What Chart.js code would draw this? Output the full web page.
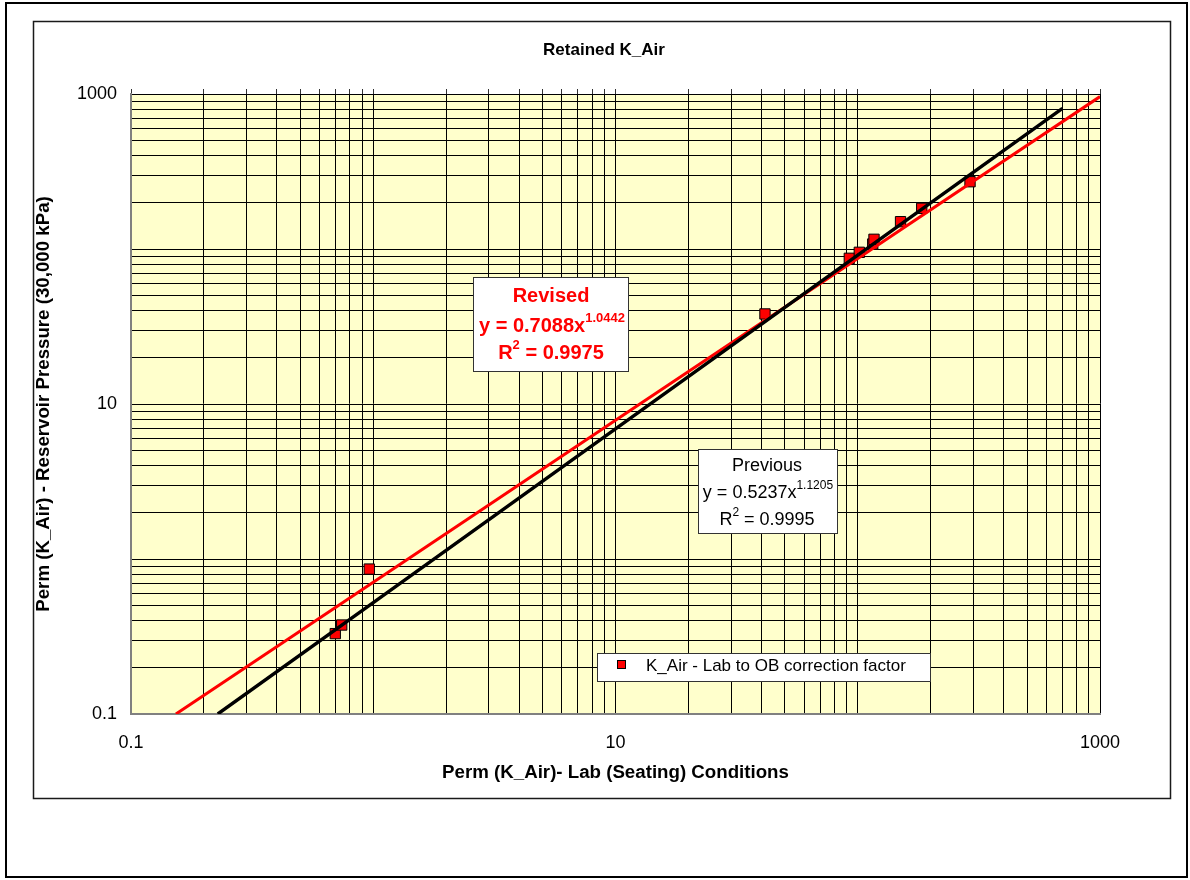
<!DOCTYPE html>
<html>
<head>
<meta charset="utf-8">
<script src="https://cdn.jsdelivr.net/npm/chart.js@4.4.0/dist/chart.umd.min.js"></script>
<style>
  html, body { margin: 0; padding: 0; background: #ffffff; }
  #wrap { width: 1190px; height: 880px; position: relative; }
</style>
</head>
<body>
<div id="wrap"><canvas id="c" width="1190" height="880"></canvas></div>
<script>
// ---- chart data ----
const chartTitle = 'Retained K_Air';
const xAxisTitle = 'Perm (K_Air)- Lab (Seating) Conditions';
const yAxisTitle = 'Perm (K_Air) - Reservoir Pressure (30,000 kPa)';
const seriesName = 'K_Air - Lab to OB correction factor';

// lab (seating) permeability vs reservoir-pressure permeability
const labPerm       = [0.697, 0.741, 0.963, 41.4, 92.3, 101.5, 115.3, 116.7, 150.2, 183.7, 290.7];
const reservoirPerm = [0.330, 0.375, 0.861, 38.1, 87.1,  95.2, 107.7, 115.5, 150.0, 183.0, 271.6];

// power-law fits y = a * x^b
const fitNames = ['Previous', 'Revised'];
const fitCoef  = [0.5237, 0.7088];
const fitExp   = [1.1205, 1.0442];
const fitR2    = [0.9995, 0.9975];
const fitXEnd  = [700, 1000];
const fitColors = ['#000000', '#ff0000'];

// axis ticks
const axisMin = 0.1, axisMax = 1000;
const decades = [0.1, 1, 10, 100];
const xTickLabels = ['0.1', '10', '1000'];
const yTickLabels = ['0.1', '10', '1000'];

// ---- helpers ----
const FONT = "'Liberation Sans', Arial, sans-serif";

const tickValues = [];
decades.forEach(d => { for (let m = 1; m <= 9; m++) tickValues.push(Number((m * d).toPrecision(6))); });
tickValues.push(axisMax);

function labelFor(v, labels) {
  const hit = labels.find(l => Math.abs(Number(l) - v) <= 1e-9 * Math.max(1, Math.abs(v)));
  return hit === undefined ? '' : hit;
}

function fitLine(i) {
  const a = fitCoef[i], b = fitExp[i];
  const xStart = Math.pow(axisMin / a, 1 / b); // where the fit meets the bottom of the axis
  const xs = [xStart, 1, 10, 100, fitXEnd[i]].filter(x => x >= xStart && x <= fitXEnd[i]);
  return xs.map(x => ({ x, y: a * Math.pow(x, b) }));
}

function setTicks(scale) {
  scale.ticks = tickValues.map(v => ({ value: v }));
}

// text with superscript pieces, centered on cx
function drawRich(ctx, cx, baseY, parts, color) {
  ctx.fillStyle = color;
  ctx.textBaseline = 'alphabetic';
  ctx.textAlign = 'left';
  let total = 0;
  parts.forEach(p => { ctx.font = p.font; p.w = ctx.measureText(p.t).width; total += p.w; });
  let x = cx - total / 2;
  parts.forEach(p => { ctx.font = p.font; ctx.fillText(p.t, x, baseY + (p.dy || 0)); x += p.w; });
}

const decorPlugin = {
  id: 'decor',
  beforeDraw(chart) {
    const ctx = chart.ctx, a = chart.chartArea;
    ctx.save();
    ctx.fillStyle = '#ffffff';
    ctx.fillRect(0, 0, chart.width, chart.height);
    // outer frame
    ctx.strokeStyle = '#000000';
    ctx.lineWidth = 2;
    ctx.strokeRect(6, 3, 1181, 874);
    // chart frame
    ctx.lineWidth = 1.5;
    ctx.strokeStyle = '#1a1a1a';
    ctx.strokeRect(33.5, 21.5, 1137, 777);
    // plot background
    ctx.fillStyle = '#ffffcc';
    ctx.fillRect(a.left, a.top, a.right - a.left, a.bottom - a.top);
    ctx.restore();
  },
  afterDraw(chart) {
    const ctx = chart.ctx;
    ctx.save();
    // chart title
    ctx.fillStyle = '#000';
    ctx.font = `bold 17px ${FONT}`;
    ctx.textAlign = 'center';
    ctx.textBaseline = 'middle';
    ctx.fillText(chartTitle, 604, 50);

    // revised fit box
    ctx.fillStyle = '#ffffff';
    ctx.fillRect(473, 277, 155, 94);
    ctx.strokeStyle = '#333333';
    ctx.lineWidth = 1;
    ctx.strokeRect(473.5, 277.5, 155, 94);
    const rb = `bold 20px ${FONT}`, rs = `bold 13px ${FONT}`;
    drawRich(ctx, 551, 302, [{ t: fitNames[1], font: rb }], fitColors[1]);
    drawRich(ctx, 552, 332, [
      { t: `y = ${fitCoef[1].toFixed(4)}x`, font: rb },
      { t: fitExp[1].toFixed(4), font: rs, dy: -10 }
    ], fitColors[1]);
    drawRich(ctx, 551, 359, [
      { t: 'R', font: rb }, { t: '2', font: rs, dy: -10 },
      { t: ` = ${fitR2[1].toFixed(4)}`, font: rb }
    ], fitColors[1]);

    // previous fit box
    ctx.fillStyle = '#ffffff';
    ctx.fillRect(698, 449, 139, 84);
    ctx.strokeStyle = '#333333';
    ctx.strokeRect(698.5, 449.5, 139, 84);
    const pb = `18px ${FONT}`, ps = `12px ${FONT}`;
    drawRich(ctx, 767, 471, [{ t: fitNames[0], font: pb }], '#000');
    drawRich(ctx, 768, 498, [
      { t: `y = ${fitCoef[0].toFixed(4)}x`, font: pb },
      { t: fitExp[0].toFixed(4), font: ps, dy: -9 }
    ], '#000');
    drawRich(ctx, 767, 525, [
      { t: 'R', font: pb }, { t: '2', font: ps, dy: -9 },
      { t: ` = ${fitR2[0].toFixed(4)}`, font: pb }
    ], '#000');

    // legend
    const ds = chart.data.datasets[2];
    ctx.fillStyle = '#ffffff';
    ctx.fillRect(597, 653, 333, 28);
    ctx.strokeStyle = '#333333';
    ctx.strokeRect(597.5, 653.5, 333, 28);
    ctx.fillStyle = ds.backgroundColor;
    ctx.fillRect(617, 660, 9, 9);
    ctx.strokeStyle = ds.borderColor;
    ctx.strokeRect(617.5, 660.5, 8, 8);
    ctx.fillStyle = '#000';
    ctx.font = `17px ${FONT}`;
    ctx.textAlign = 'left';
    ctx.textBaseline = 'middle';
    ctx.fillText(ds.label, 646, 666);
    ctx.restore();
  }
};

new Chart(document.getElementById('c').getContext('2d'), {
  type: 'scatter',
  data: {
    datasets: [
      {
        label: fitNames[0], data: fitLine(0), showLine: true,
        borderColor: fitColors[0], borderWidth: 3.4, pointRadius: 0, pointHoverRadius: 0, fill: false
      },
      {
        label: fitNames[1], data: fitLine(1), showLine: true,
        borderColor: fitColors[1], borderWidth: 3, pointRadius: 0, pointHoverRadius: 0, fill: false
      },
      {
        label: seriesName,
        data: labPerm.map((x, i) => ({ x, y: reservoirPerm[i] })),
        showLine: false, pointStyle: 'rect', pointRadius: 7.3, pointHoverRadius: 7.3,
        backgroundColor: '#ff0000', borderColor: '#000000', borderWidth: 1
      }
    ]
  },
  options: {
    responsive: false,
    animation: false,
    events: [],
    layout: { padding: { left: 33, top: 89, right: 90, bottom: 96 } },
    plugins: { legend: { display: false }, tooltip: { enabled: false }, title: { display: false } },
    scales: {
      x: {
        type: 'logarithmic', position: 'bottom', min: axisMin, max: axisMax,
        afterBuildTicks: setTicks,
        afterFit: s => { s.height = 70; },
        ticks: {
          autoSkip: false, maxRotation: 0, padding: 18, color: '#000',
          font: { family: FONT, size: 18 },
          callback: v => labelFor(v, xTickLabels)
        },
        grid: { color: '#000', lineWidth: 1, drawTicks: false },
        border: { color: '#808080', width: 2 },
        title: { display: true, text: xAxisTitle, color: '#000', padding: 0,
                 font: { family: FONT, size: 18.7, weight: 'bold' } }
      },
      xTop: {
        type: 'logarithmic', position: 'top', axis: 'x', min: axisMin, max: axisMax,
        afterBuildTicks: setTicks,
        afterFit: s => { s.height = 5; },
        ticks: { display: false },
        grid: { drawOnChartArea: false, drawTicks: true, tickLength: 5, color: '#333' },
        border: { display: false }
      },
      y: {
        type: 'logarithmic', position: 'left', min: axisMin, max: axisMax,
        afterBuildTicks: setTicks,
        afterFit: s => { s.width = 98; },
        ticks: {
          autoSkip: false, padding: 14, color: '#000',
          font: { family: FONT, size: 18 },
          callback: v => labelFor(v, yTickLabels)
        },
        grid: { color: '#000', lineWidth: 1, drawTicks: false },
        border: { color: '#808080', width: 2 },
        title: { display: true, text: yAxisTitle, color: '#000', padding: 0,
                 font: { family: FONT, size: 18.7, weight: 'bold' } }
      }
    }
  },
  plugins: [decorPlugin]
});
</script>
</body>
</html>
